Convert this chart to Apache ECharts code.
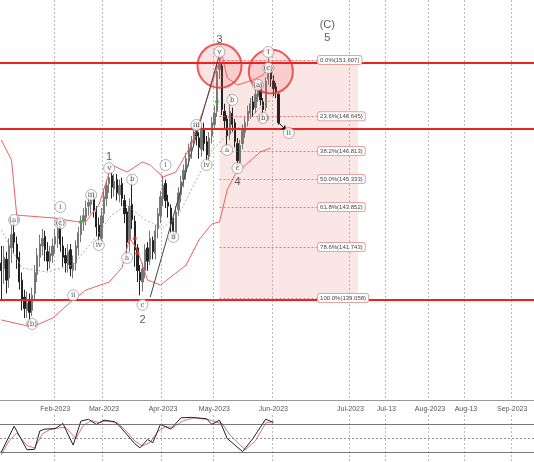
<!DOCTYPE html>
<html>
<head>
<meta charset="utf-8">
<script src="https://cdn.jsdelivr.net/npm/echarts@6/dist/echarts.min.js"></script>
<style>html,body{margin:0;padding:0;background:#fff}#chart{width:534px;height:462px}</style>
</head>
<body>
<div id="chart"></div>
<script>
// bar slots, tick labels on the time axis
const slotCount = 208;
const tickLabels = ['Feb-2023', 'Mar-2023', 'Apr-2023', 'May-2023', 'Jun-2023', 'Jul-2023', 'Jul-13', 'Aug-2023', 'Aug-13', 'Sep-2023'];
const tickSlots = [21, 40, 63, 83, 106, 136, 150, 167, 181, 199];

// daily OHLC
const opens = [140.9,140.6,141.1,140.1,141.7, 142.5,141.9,141.2,140.0,139.1, 138.4,138.9,138.4,139.3,140.3,
  141.2,141.8,142.3,141.5,141.0, 141.3,141.9,142.2,142.9,141.8, 141.3,140.8,141.6,140.5,140.9,
  141.7,142.4,143.1,143.3,143.9, 144.0,144.4,143.6,142.9,142.2, 143.5,144.3,145.1,145.5,144.8,
  145.3,144.5,145.1,144.2,143.6, 142.1,144.0,143.1,141.7,140.4, 139.9,140.5,141.7,141.1,142.1,
  141.4,142.7,143.4,144.3,145.1, 144.1,143.8,143.1,142.5,143.7, 144.5,145.3,145.7,146.5,146.8,
  147.4,147.9,147.5,146.9,148.0, 147.3,146.5,147.6,148.2,148.9, 151.1,151.3,148.9,148.5,147.7,
  148.8,148.3,147.2,146.2,147.2, 147.8,148.4,148.8,149.4,149.1, 149.7,150.3,149.4,149.1,150.6,
  151.1,150.5,150.2,149.8];
const closes = [140.5,141.2,140.0,141.8,142.4, 142.0,141.1,139.9,139.0,138.5, 138.8,138.3,139.2,140.4,141.3,
  141.9,142.2,141.6,141.0,141.4, 141.8,142.3,142.8,141.9,141.2, 140.9,141.5,140.6,140.9,141.8,
  142.5,143.0,143.4,143.8,144.1, 144.3,143.7,142.8,142.3,143.4, 144.4,145.0,145.4,144.9,145.2,
  144.6,145.0,144.3,143.5,142.0, 143.9,143.2,141.6,140.5,140.0, 140.6,141.6,141.0,142.2,141.5,
  142.6,143.5,144.4,145.0,144.2, 143.9,143.0,142.6,143.6,144.6, 145.2,145.8,146.4,146.9,147.3,
  147.8,147.6,147.0,147.9,147.2, 146.6,147.5,148.3,148.8,151.0, 151.4,149.0,148.4,147.6,148.9,
  148.2,147.3,146.3,147.1,147.9, 148.3,148.9,149.3,149.0,149.8, 150.2,149.5,149.0,150.5,151.2,
  150.6,150.1,149.9,148.3];
const lows = [139.0,139.8,139.3,139.6,140.9, 141.4,140.6,139.5,138.4,138.0, 138.0,137.9,138.1,139.0,139.9,
  140.7,141.3,141.0,140.5,140.6, 140.9,141.4,141.7,141.5,140.7, 140.4,140.4,140.2,140.1,140.5,
  141.3,142.0,142.6,142.9,143.4, 143.5,143.3,142.3,141.9,141.9, 143.0,143.9,144.6,144.3,144.4,
  144.2,144.1,143.9,143.0,141.2, 141.5,142.7,140.7,139.9,139.2, 139.4,140.1,140.5,140.8,141.1,
  141.1,142.2,143.0,143.9,143.8, 143.3,142.5,142.1,142.2,143.4, 144.1,144.9,145.3,146.0,146.4,
  147.0,147.1,146.4,146.5,146.8, 146.3,146.2,147.2,147.9,148.6, 150.6,148.7,148.0,147.0,147.4,
  147.8,147.0,145.9,146.0,146.9, 147.5,148.1,148.5,148.6,148.8, 149.4,149.2,148.7,148.9,150.3,
  150.2,149.7,149.6,148.2];
const highs = [141.8,141.8,141.5,142.2,142.9, 143.1,142.3,141.5,140.4,139.5, 139.4,139.3,139.6,140.8,141.7,
  142.4,142.7,142.6,142.0,141.8, 142.2,142.7,143.1,143.2,142.3, 141.7,141.9,141.9,141.3,142.1,
  142.8,143.4,143.8,144.2,144.4, 144.6,144.6,143.9,143.3,143.8, 144.8,145.3,145.7,145.7,145.6,
  145.6,145.3,145.4,144.5,143.8, 144.3,145.3,143.4,141.9,140.8, 140.9,141.9,142.0,142.6,142.3,
  142.9,143.8,144.7,145.5,145.3, 144.5,144.0,143.3,143.9,144.9, 145.5,146.1,146.7,147.2,147.6,
  148.2,148.2,147.8,148.2,148.3, 147.6,147.8,148.6,149.2,151.4, 151.9,151.5,149.3,148.7,149.8,
  149.1,148.5,147.5,147.4,148.2, 148.6,149.2,149.6,149.7,150.1, 150.4,150.4,149.6,150.7,151.7,
  151.3,150.8,150.4,149.9];

// Bollinger bands [slot, price]
const bandUpper = [[0,147.39],[4,146.33],[6,143.43],[20,143.28],[30,143.07],[33,143.1],[38,143.96],[43,146.07],
  [49,145.7],[55,146.23],[58,146.07],[63,145.44],[68,145.7],[74,147.13],[80,149.5],[84,151.19],[86,151.87],
  [88,150.66],[92,150.29],[98,150.55],[102,150.82],[105,151.5]];
const bandLower = [[0,137.9],[12,137.53],[20,138.0],[28,138.96],[33,139.48],[42,139.9],[47,140.65],[50,142.23],
  [53,141.59],[57,140.0],[62,139.74],[67,140.27],[72,140.8],[77,142.12],[82,142.96],[85,143.07],[88,144.76],
  [91,145.55],[96,146.18],[101,146.76],[105,146.97]];
const bandMid = [[0,142.65],[8,140.64],[18,140.43],[28,140.8],[36,142.12],[43,143.44],[49,143.96],[56,143.17],
  [63,142.75],[69,143.44],[76,145.28],[82,146.86],[88,147.65],[94,148.18],[102,149.23],[105,149.5]];

// stochastic [slot, value]
const stochK = [[0,21],[5,76],[10,26],[13,27],[15,66],[17,70],[21,71],[24,82],[28,36],[31,87],[34,91],[37,80],
  [40,89],[44,86],[46,77],[52,39],[54,30],[57,48],[59,41],[62,80],[66,70],[70,94],[74,95],[80,92],[82,80],
  [85,89],[88,50],[94,22],[98,50],[103,91],[106,84]];
const stochD = [[0,15],[3,45],[6,62],[10,35],[13,30],[16,60],[19,69],[22,72],[25,74],[29,50],[32,78],[35,88],
  [38,84],[41,87],[45,84],[48,70],[52,45],[55,34],[58,42],[61,65],[64,75],[67,74],[71,88],[75,94],[81,90],
  [84,84],[86,82],[89,58],[95,26],[99,45],[103,83],[106,86]];

// fibonacci retracement
const fibLevels = ['0.0%', '23.6%', '38.2%', '50.0%', '61.8%', '78.6%', '100.0%'];
const fibPrices = [151.607, 148.645, 146.813, 145.333, 143.852, 141.743, 139.058];
const levelLines = [151.45, 147.97, 138.95];

// wave labels [text, slot, price]
const waveCircled = [['(a)',5,143.17],['(b)',12,137.69],['i',23,143.86],['(c)',23,143.0],['ii',28,139.2],
  ['iii',35,144.49],['iv',38,141.85],['v',42,145.9],['a',49,141.17],['b',51,145.3],['c',54.5,138.7],
  ['i',63.5,146.07],['ii',67.4,142.28],['iii',76.4,148.18],['iv',80,146.07],['v',85.3,152.03],
  ['a',88,146.86],['b',89.6,149.5],['c',92.3,145.9],['(a)',99.7,150.29],['(b)',101.7,148.55],
  ['(c)',104.4,151.19],['i',104.4,152.03],['ii',111.8,147.76]];
const waveBig = [['1',42,146.5],['2',54.5,137.9],['3',85.3,152.66],['4',92.3,145.2],['5',126.6,152.77],['(C)',126.6,153.45]];

const categories = [];
for (let i = 0; i < slotCount; i++) {
  const k = tickSlots.indexOf(i);
  categories.push(k >= 0 ? tickLabels[k] : '');
}
const isTick = (i) => tickSlots.includes(i);
const ohlc = opens.map((o, i) => [o, closes[i], lows[i], highs[i]]);

const fibStart = 84.9, fibLineEnd = 123.4, fibEnd = 138.6;
const chart = echarts.init(document.getElementById('chart'));
chart.setOption({
  animation: false,
  grid: [
    {left: 0, right: 0, top: 0, height: 400},
    {left: 0, right: 0, top: 415, height: 48}
  ],
  xAxis: [
    {type: 'category', data: categories, gridIndex: 0,
      axisLine: {lineStyle: {color: '#999'}}, axisTick: {show: false},
      axisLabel: {interval: (i) => isTick(i), fontSize: 7, color: '#555', margin: 6, fontFamily: 'Arial'},
      splitLine: {show: true, interval: (i) => isTick(i), lineStyle: {color: '#bbb', type: [2, 2]}}},
    {type: 'category', data: categories, gridIndex: 1,
      axisLine: {lineStyle: {color: '#777'}}, axisTick: {show: false}, axisLabel: {show: false},
      splitLine: {show: true, interval: (i) => isTick(i), lineStyle: {color: '#bbb', type: [2, 2]}}}
  ],
  yAxis: [
    {type: 'value', gridIndex: 0, min: 133.68, max: 154.77, show: false},
    {type: 'value', gridIndex: 1, min: 0, max: 100, show: false}
  ],
  series: [
    {type: 'candlestick', data: ohlc, barWidth: 1.8,
      itemStyle: {color: '#777', color0: '#222', borderColor: '#777', borderColor0: '#222', borderWidth: 1},
      markArea: {silent: true, itemStyle: {color: 'rgba(235,140,140,0.22)'},
        data: [[{coord: [fibStart, fibPrices[0]]}, {coord: [fibEnd, fibPrices[6]]}]]},
      markLine: {silent: true, symbol: 'none', animation: false,
        data: [
          ...levelLines.map(v => ({yAxis: v, lineStyle: {color: '#ee2222', width: 2, type: 'solid'}, label: {show: false}})),
          ...fibPrices.map((p, k) => [
            {coord: [fibStart, p], lineStyle: {color: '#e05050', width: 0.7, type: [2, 2]},
              label: {show: true, position: 'end', formatter: fibLevels[k] + '(' + p.toFixed(3) + ')',
                fontSize: 6, color: '#444', backgroundColor: '#fff', borderColor: '#e8a0a0', borderWidth: 1,
                borderRadius: 2, padding: [1, 2], distance: 1}},
            {coord: [fibLineEnd, p]}
          ]),
          [{coord: [58.4, 139.1], lineStyle: {color: '#444', width: 1, type: 'solid'}, label: {show: false}}, {coord: [85.3, 151.9]}],
          [{coord: [107.5, 148.3], symbol: 'none', lineStyle: {color: '#111', width: 1, type: 'solid'}, label: {show: false}},
            {coord: [111, 147.9], symbol: 'arrow', symbolSize: 5}]
        ]}},
    {type: 'line', data: bandUpper, symbol: 'none', lineStyle: {color: '#f06060', width: 1}, z: 3},
    {type: 'line', data: bandLower, symbol: 'none', lineStyle: {color: '#f06060', width: 1}, z: 3},
    {type: 'line', data: bandMid, symbol: 'none', lineStyle: {color: '#999', width: 0.8, type: [2, 2]}, z: 3},
    {type: 'scatter', data: [[85.3, 151.3], [104.8, 151.0]], symbol: 'circle', symbolSize: 44, silent: true,
      itemStyle: {color: 'rgba(240,90,90,0.22)', borderColor: '#ee3333', borderWidth: 2}, z: 4},
    {type: 'scatter', data: [[31, 143.07, '#3a3'], [83.8, 149.4, '#3a3'], [51.8, 142.2, '#c33'], [53, 141.4, '#c33']],
      symbolSize: 4, itemStyle: {color: (p) => p.data[2]}, z: 5},
    {type: 'scatter', data: waveCircled.map(w => [w[1], w[2], w[0]]), symbol: 'circle', symbolSize: 11, z: 6,
      itemStyle: {color: '#fff', borderColor: '#888', borderWidth: 0.8},
      label: {show: true, position: 'inside', formatter: (p) => p.data[2], fontSize: 7, color: '#222', fontFamily: 'DejaVu Serif'}},
    {type: 'scatter', data: waveBig.map(w => [w[1], w[2], w[0]]), symbolSize: 0, z: 6,
      label: {show: true, position: 'inside', formatter: (p) => p.data[2], fontSize: 11, color: '#333', fontFamily: 'Arial'}},
    {type: 'line', xAxisIndex: 1, yAxisIndex: 1, data: stochD, symbol: 'none', lineStyle: {color: '#d05050', width: 0.8},
      markLine: {silent: true, symbol: 'none', label: {show: false},
        data: [{yAxis: 80, lineStyle: {color: '#555', width: 0.8, type: 'solid'}},
          {yAxis: 50, lineStyle: {color: '#777', width: 0.8, type: [2, 2]}},
          {yAxis: 20, lineStyle: {color: '#555', width: 0.8, type: 'solid'}}]}},
    {type: 'line', xAxisIndex: 1, yAxisIndex: 1, data: stochK, symbol: 'none', lineStyle: {color: '#222', width: 1}}
  ]
});
</script>
</body>
</html>
